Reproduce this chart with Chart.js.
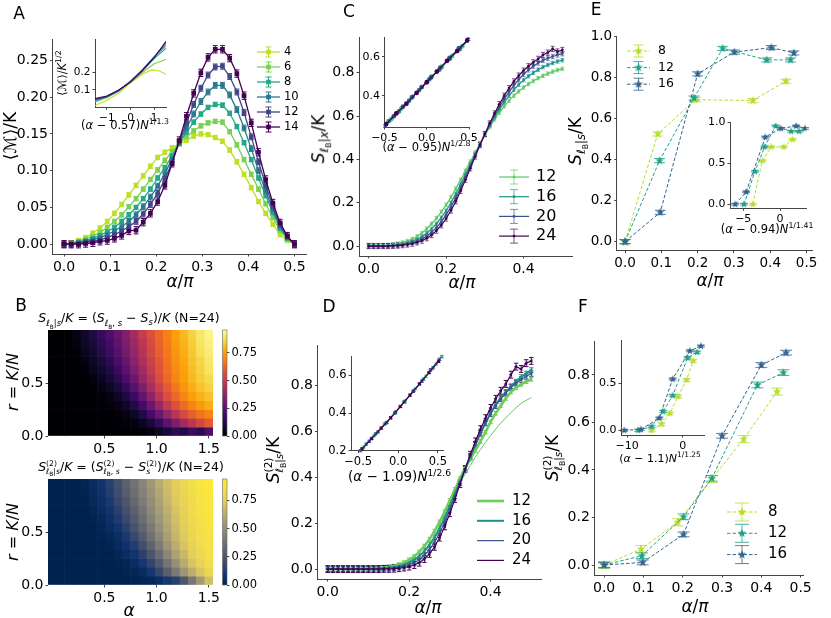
<!DOCTYPE html>
<html>
<head>
<meta charset="utf-8">
<script src="https://cdn.jsdelivr.net/npm/chart.js@4.4.1/dist/chart.umd.min.js"></script>
<style>
  body { margin: 0; background: #fff; }
  #fig { position: relative; width: 831px; height: 618px; overflow: hidden; background: #fff;
         font-family: "DejaVu Sans", sans-serif; color: #000; }
  #fig canvas { position: absolute; left: 0; top: 0; }
  .lbl { position: absolute; white-space: nowrap; line-height: 1; z-index: 5; }
  .lbl sub, .lbl sup { font-size: 68%; line-height: 0; }
  .ss { display: inline-block; vertical-align: -0.4em; font-size: 62%; line-height: 1.05; text-align: left; }
  .ss sub { font-size: 75%; }
</style>
</head>
<body>
<div id="fig"></div>
<script>
// ---------- panel A : <M>/K vs alpha/pi ----------
const aX = [0, 0.0156, 0.0313, 0.0469, 0.0625, 0.0781, 0.0938, 0.1094, 0.125, 0.1406, 0.1563,
  0.1719, 0.1875, 0.2031, 0.2188, 0.2344, 0.25, 0.2656, 0.2813, 0.2969, 0.3125, 0.3281,
  0.3438, 0.3594, 0.375, 0.3906, 0.4063, 0.4219, 0.4375, 0.4531, 0.4688, 0.4844, 0.5];
const aLabels = ['4', '6', '8', '10', '12', '14'];
const aN4 = [0, 0.002, 0.005, 0.009, 0.015, 0.022, 0.031, 0.042, 0.054, 0.067, 0.080, 0.093, 0.106,
  0.118, 0.125, 0.131, 0.136, 0.141, 0.147, 0.150, 0.149, 0.145, 0.140, 0.128, 0.112, 0.095,
  0.077, 0.058, 0.042, 0.027, 0.013, 0.005, 0];
const aN6 = [0, 0.001, 0.004, 0.007, 0.011, 0.016, 0.023, 0.031, 0.040, 0.051, 0.062, 0.075, 0.088,
  0.101, 0.114, 0.126, 0.137, 0.146, 0.154, 0.161, 0.165, 0.167, 0.166, 0.153, 0.135, 0.115,
  0.095, 0.075, 0.055, 0.036, 0.018, 0.007, 0];
const aN8 = [0, 0.001, 0.003, 0.005, 0.008, 0.012, 0.017, 0.023, 0.031, 0.040, 0.050, 0.062, 0.075,
  0.090, 0.104, 0.120, 0.137, 0.152, 0.166, 0.177, 0.186, 0.190, 0.189, 0.178, 0.160, 0.138,
  0.115, 0.090, 0.066, 0.043, 0.021, 0.008, 0];
const aN10 = [0, 0.001, 0.002, 0.004, 0.006, 0.009, 0.013, 0.018, 0.024, 0.031, 0.040, 0.051, 0.064,
  0.079, 0.096, 0.116, 0.138, 0.158, 0.177, 0.194, 0.207, 0.216, 0.216, 0.203, 0.183, 0.158,
  0.130, 0.100, 0.072, 0.047, 0.024, 0.009, 0];
const aN12 = [0, 0, 0.001, 0.003, 0.004, 0.006, 0.009, 0.013, 0.018, 0.024, 0.031, 0.041, 0.054,
  0.069, 0.088, 0.111, 0.139, 0.165, 0.190, 0.212, 0.230, 0.241, 0.242, 0.228, 0.207, 0.179,
  0.146, 0.112, 0.080, 0.051, 0.026, 0.010, 0];
const aN14 = [0, 0, 0, 0.001, 0.002, 0.004, 0.005, 0.008, 0.012, 0.018, 0.019, 0.030, 0.042,
  0.058, 0.080, 0.110, 0.141, 0.174, 0.205, 0.233, 0.254, 0.265, 0.265, 0.253, 0.232, 0.202,
  0.165, 0.125, 0.088, 0.056, 0.029, 0.011, 0];
const aErr = [0.003, 0.003, 0.003, 0.004, 0.004, 0.005];
// inset of A (collapse), x then y per size
const aInX = [[-1.5, -1, -0.5, 0, 0.5, 0.9, 1.2, 1.5], [-1.5, -1, -0.5, 0, 0.5, 1, 1.5],
  [-1.5, -1, -0.5, 0, 0.5, 1, 1.5], [-1.5, -1, -0.5, 0, 0.5, 1, 1.5],
  [-1.5, -1, -0.5, 0, 0.5, 1, 1.5], [-1.5, -1, -0.5, 0, 0.5, 1, 1.5]];
const aInY = [[0.01, 0.04, 0.08, 0.14, 0.19, 0.215, 0.21, 0.19], [0.03, 0.055, 0.09, 0.145, 0.2, 0.25, 0.275],
  [0.035, 0.06, 0.095, 0.15, 0.21, 0.28, 0.34], [0.04, 0.06, 0.095, 0.15, 0.215, 0.29, 0.355],
  [0.045, 0.062, 0.097, 0.148, 0.215, 0.29, 0.37], [0.05, 0.065, 0.1, 0.145, 0.21, 0.285, 0.38]];

// ---------- panel C : S_{lB|x}/K ----------
const cX = [0, 0.0125, 0.025, 0.0375, 0.05, 0.0625, 0.075, 0.0875, 0.1, 0.1125, 0.125, 0.1375, 0.15,
  0.1625, 0.175, 0.1875, 0.2, 0.2125, 0.225, 0.2375, 0.25, 0.2625, 0.275, 0.2875, 0.3, 0.3125,
  0.325, 0.3375, 0.35, 0.3625, 0.375, 0.3875, 0.4, 0.4125, 0.425, 0.4375, 0.45, 0.4625, 0.475, 0.4875, 0.5];
const cLabels = ['12', '16', '20', '24'];
const cN12 = [0, 0, 0.001, 0.002, 0.004, 0.007, 0.011, 0.016, 0.023, 0.032, 0.044, 0.060, 0.080, 0.103,
  0.129, 0.158, 0.190, 0.226, 0.265, 0.306, 0.348, 0.390, 0.432, 0.473, 0.512, 0.549, 0.584, 0.616,
  0.645, 0.671, 0.694, 0.714, 0.732, 0.748, 0.762, 0.775, 0.786, 0.796, 0.805, 0.812, 0.818];
const cN16 = [0, 0, 0, 0.001, 0.002, 0.004, 0.007, 0.010, 0.015, 0.022, 0.031, 0.043, 0.059, 0.079,
  0.103, 0.131, 0.163, 0.200, 0.241, 0.285, 0.331, 0.378, 0.425, 0.470, 0.514, 0.556, 0.595, 0.631,
  0.664, 0.694, 0.721, 0.745, 0.766, 0.784, 0.800, 0.814, 0.826, 0.836, 0.845, 0.852, 0.858];
const cN20 = [0, 0, 0, 0, 0.001, 0.002, 0.004, 0.007, 0.011, 0.016, 0.023, 0.033, 0.046, 0.063, 0.085,
  0.112, 0.144, 0.181, 0.223, 0.269, 0.318, 0.369, 0.420, 0.470, 0.517, 0.562, 0.604, 0.643, 0.679,
  0.712, 0.742, 0.769, 0.793, 0.813, 0.830, 0.845, 0.857, 0.867, 0.875, 0.882, 0.888];
const cN24 = [0, 0, 0, 0, 0, 0.001, 0.002, 0.004, 0.007, 0.011, 0.017, 0.025, 0.036, 0.051, 0.071,
  0.096, 0.127, 0.164, 0.207, 0.255, 0.306, 0.359, 0.413, 0.466, 0.517, 0.566, 0.612, 0.655, 0.694,
  0.729, 0.760, 0.787, 0.810, 0.830, 0.848, 0.864, 0.882, 0.893, 0.910, 0.898, 0.905];
const cErr = [0.008, 0.008, 0.01, 0.012];
const cInX = [[-0.42, -0.3, -0.18, -0.06, 0.06, 0.18, 0.3, 0.42],
  [-0.45, -0.33, -0.21, -0.09, 0.03, 0.15, 0.27, 0.39, 0.5],
  [-0.5, -0.39, -0.28, -0.17, -0.06, 0.05, 0.16, 0.27, 0.38, 0.49],
  [-0.48, -0.36, -0.24, -0.12, 0, 0.12, 0.24, 0.36, 0.48]];
const cInY = [[0.28, 0.335, 0.39, 0.445, 0.5, 0.55, 0.605, 0.655],
  [0.27, 0.32, 0.375, 0.43, 0.485, 0.535, 0.59, 0.64, 0.69],
  [0.245, 0.295, 0.345, 0.395, 0.445, 0.495, 0.545, 0.595, 0.645, 0.69],
  [0.255, 0.31, 0.36, 0.415, 0.47, 0.525, 0.58, 0.63, 0.685]];

// ---------- panel D : S^(2)_{lB|s}/K ----------
const dN12 = [0, 0, 0, 0, 0, 0, 0.001, 0.001, 0.002, 0.003, 0.004, 0.006, 0.009, 0.013, 0.019, 0.028,
  0.040, 0.055, 0.075, 0.100, 0.130, 0.165, 0.205, 0.250, 0.298, 0.346, 0.394, 0.440, 0.478, 0.515,
  0.555, 0.595, 0.640, 0.677, 0.710, 0.742, 0.770, 0.788, 0.803, 0.815, 0.825];
const dN16 = [0, 0, 0, 0, 0, 0, 0, 0, 0.001, 0.002, 0.003, 0.004, 0.006, 0.009, 0.013, 0.019, 0.028,
  0.040, 0.056, 0.078, 0.105, 0.138, 0.178, 0.224, 0.275, 0.328, 0.382, 0.435, 0.486, 0.540, 0.590,
  0.635, 0.680, 0.715, 0.745, 0.770, 0.795, 0.815, 0.835, 0.850, 0.865];
const dN20 = [0, 0, 0, 0, 0, 0, 0, 0, 0, 0.001, 0.002, 0.003, 0.004, 0.006, 0.009, 0.013, 0.019,
  0.028, 0.041, 0.060, 0.085, 0.117, 0.157, 0.205, 0.260, 0.318, 0.377, 0.435, 0.490, 0.542, 0.590,
  0.635, 0.675, 0.710, 0.740, 0.765, 0.790, 0.808, 0.824, 0.838, 0.850];
const dN24 = [0, 0, 0, 0, 0, 0, 0, 0, 0, 0, 0, 0.001, 0.001, 0.002, 0.004, 0.007, 0.011, 0.018,
  0.028, 0.044, 0.066, 0.097, 0.137, 0.186, 0.243, 0.305, 0.370, 0.435, 0.497, 0.555, 0.608, 0.656,
  0.700, 0.740, 0.775, 0.805, 0.845, 0.880, 0.870, 0.895, 0.905];
const dErr = [0.008, 0.01, 0.012, 0.015];
const dThinX = [0, 0.025, 0.05, 0.075, 0.1, 0.125, 0.15, 0.175, 0.2, 0.225, 0.25, 0.275, 0.3, 0.325,
  0.35, 0.375, 0.4, 0.425, 0.45, 0.475, 0.5];
const dThin12 = [0, 0, 0, 0, 0.001, 0.003, 0.009, 0.019, 0.04, 0.075, 0.13, 0.205, 0.29, 0.375, 0.45,
  0.52, 0.58, 0.635, 0.68, 0.72, 0.745];
const dInX = [[-0.43, -0.3, -0.17, -0.04, 0.09, 0.22, 0.35, 0.48],
  [-0.4, -0.28, -0.16, -0.04, 0.08, 0.2, 0.32, 0.44, 0.55],
  [-0.47, -0.36, -0.25, -0.14, -0.03, 0.08, 0.19, 0.3, 0.41, 0.52],
  [-0.45, -0.33, -0.21, -0.09, 0.03, 0.15, 0.27, 0.39, 0.51]];
const dInY = [[0.22, 0.28, 0.34, 0.4, 0.465, 0.53, 0.595, 0.66],
  [0.235, 0.29, 0.345, 0.4, 0.46, 0.52, 0.58, 0.64, 0.7],
  [0.2, 0.25, 0.3, 0.35, 0.405, 0.46, 0.515, 0.57, 0.63, 0.685],
  [0.21, 0.265, 0.32, 0.375, 0.435, 0.495, 0.555, 0.615, 0.675]];

// ---------- panel E ----------
const eLabels = ['8', '12', '16'];
const eX = [[0, 0.09, 0.194, 0.352, 0.443], [0, 0.095, 0.19, 0.269, 0.39, 0.456], [0, 0.097, 0.2, 0.301, 0.403, 0.465]];
const eY = [[0, 0.525, 0.692, 0.688, 0.782], [0, 0.395, 0.70, 0.942, 0.886, 0.886], [0, 0.143, 0.818, 0.924, 0.946, 0.92]];
const eInX = [[-3.7, -2.4, -1.2, 0.5, 1.7], [-4.9, -3.4, -2.1, -0.6, 1.5, 2.6], [-6.1, -4.6, -2.0, 0.1, 2.2, 3.4]];
const eInY = [[0, 0.53, 0.70, 0.70, 0.79], [0, 0.40, 0.70, 0.955, 0.89, 0.89], [0, 0.15, 0.82, 0.925, 0.955, 0.925]];
const eErr = [0.01, 0.01, 0.01];

// ---------- panel F ----------
const fX = [[0, 0.094, 0.187, 0.274, 0.355, 0.44], [0, 0.096, 0.202, 0.274, 0.39, 0.456], [0, 0.098, 0.202, 0.3, 0.40, 0.463]];
const fY = [[0, 0.067, 0.18, 0.362, 0.53, 0.73], [0, 0.039, 0.203, 0.365, 0.758, 0.81], [0, 0.011, 0.129, 0.544, 0.842, 0.894]];
const fInX = [[-5.6, -3.8, -2.3, -0.8, 0.7, 1.9], [-8.0, -5.6, -3.5, -1.8, 0.9, 2.6], [-10.5, -7.5, -4.2, -1.8, 1.3, 3.3]];
const fInY = [[0, 0.065, 0.18, 0.36, 0.535, 0.74], [0, 0.04, 0.2, 0.37, 0.77, 0.83], [0, 0.01, 0.13, 0.545, 0.845, 0.895]];
const fErr = [0.015, 0.012, 0.01];

// ---------- panel B : heat maps (rows listed top r~1 to bottom r~0) ----------
const hAlpha = [0, 0.0789, 0.1579, 0.2368, 0.3158, 0.3947, 0.4737, 0.5526, 0.6316, 0.7105, 0.7895,
  0.8684, 0.9474, 1.0263, 1.1053, 1.1842, 1.2632, 1.3421, 1.4211, 1.5];
const hREdges = [1, 0.9167, 0.8333, 0.75, 0.6667, 0.5833, 0.5, 0.4167, 0.3333, 0.25, 0.1667, 0.0833, 0];
const heatTop = [
  [0, 0, 0, 0.03, 0.07, 0.12, 0.17, 0.22, 0.28, 0.34, 0.42, 0.50, 0.57, 0.63, 0.69, 0.75, 0.80, 0.85, 0.90, 0.93],
  [0, 0, 0, 0.02, 0.06, 0.10, 0.15, 0.20, 0.26, 0.33, 0.40, 0.48, 0.55, 0.62, 0.68, 0.74, 0.79, 0.84, 0.89, 0.92],
  [0, 0, 0, 0.01, 0.04, 0.08, 0.13, 0.18, 0.24, 0.31, 0.38, 0.46, 0.54, 0.61, 0.67, 0.73, 0.78, 0.83, 0.88, 0.91],
  [0, 0, 0, 0, 0.02, 0.06, 0.10, 0.15, 0.21, 0.28, 0.36, 0.44, 0.52, 0.59, 0.66, 0.72, 0.77, 0.82, 0.86, 0.90],
  [0, 0, 0, 0, 0.01, 0.04, 0.08, 0.12, 0.18, 0.25, 0.33, 0.41, 0.50, 0.58, 0.65, 0.71, 0.76, 0.81, 0.85, 0.89],
  [0, 0, 0, 0, 0, 0.02, 0.05, 0.09, 0.14, 0.21, 0.29, 0.38, 0.47, 0.56, 0.63, 0.70, 0.75, 0.80, 0.84, 0.87],
  [0, 0, 0, 0, 0, 0.01, 0.03, 0.06, 0.10, 0.16, 0.24, 0.33, 0.43, 0.52, 0.60, 0.67, 0.73, 0.78, 0.82, 0.85],
  [0, 0, 0, 0, 0, 0, 0.01, 0.03, 0.06, 0.11, 0.18, 0.27, 0.37, 0.47, 0.56, 0.63, 0.70, 0.75, 0.79, 0.82],
  [0, 0, 0, 0, 0, 0, 0, 0.01, 0.03, 0.06, 0.12, 0.20, 0.29, 0.39, 0.49, 0.57, 0.64, 0.70, 0.74, 0.78],
  [0, 0, 0, 0, 0, 0, 0, 0, 0.01, 0.03, 0.06, 0.12, 0.20, 0.29, 0.38, 0.47, 0.55, 0.61, 0.66, 0.70],
  [0, 0, 0, 0, 0, 0, 0, 0, 0, 0.01, 0.02, 0.05, 0.10, 0.17, 0.25, 0.33, 0.41, 0.48, 0.54, 0.60],
  [0, 0, 0, 0, 0, 0, 0, 0, 0, 0, 0, 0.01, 0.03, 0.06, 0.10, 0.15, 0.12, 0.18, 0.14, 0.22]];
const heatBot = [
  [0, 0, 0, 0, 0.02, 0.05, 0.09, 0.15, 0.22, 0.30, 0.38, 0.46, 0.54, 0.62, 0.69, 0.75, 0.80, 0.85, 0.90, 0.93],
  [0, 0, 0, 0, 0.01, 0.04, 0.08, 0.13, 0.20, 0.28, 0.36, 0.44, 0.52, 0.60, 0.68, 0.74, 0.79, 0.84, 0.89, 0.92],
  [0, 0, 0, 0, 0, 0.03, 0.06, 0.11, 0.18, 0.25, 0.33, 0.42, 0.50, 0.58, 0.66, 0.73, 0.78, 0.83, 0.88, 0.91],
  [0, 0, 0, 0, 0, 0.02, 0.05, 0.09, 0.15, 0.22, 0.30, 0.39, 0.48, 0.56, 0.64, 0.71, 0.77, 0.82, 0.87, 0.91],
  [0, 0, 0, 0, 0, 0.01, 0.03, 0.07, 0.12, 0.19, 0.27, 0.36, 0.45, 0.54, 0.62, 0.70, 0.76, 0.81, 0.86, 0.90],
  [0, 0, 0, 0, 0, 0, 0.02, 0.05, 0.09, 0.15, 0.23, 0.32, 0.41, 0.51, 0.60, 0.68, 0.75, 0.80, 0.85, 0.89],
  [0, 0, 0, 0, 0, 0, 0.01, 0.03, 0.06, 0.11, 0.18, 0.27, 0.37, 0.47, 0.57, 0.66, 0.73, 0.79, 0.84, 0.88],
  [0, 0, 0, 0, 0, 0, 0, 0.01, 0.04, 0.08, 0.13, 0.21, 0.31, 0.42, 0.53, 0.63, 0.71, 0.77, 0.83, 0.87],
  [0, 0, 0, 0, 0, 0, 0, 0, 0.02, 0.05, 0.09, 0.15, 0.24, 0.35, 0.47, 0.58, 0.67, 0.75, 0.81, 0.86],
  [0, 0, 0, 0, 0, 0, 0, 0, 0.01, 0.02, 0.05, 0.10, 0.17, 0.27, 0.39, 0.51, 0.62, 0.71, 0.78, 0.84],
  [0, 0, 0, 0, 0, 0, 0, 0, 0, 0.01, 0.02, 0.05, 0.10, 0.18, 0.29, 0.41, 0.53, 0.63, 0.72, 0.80],
  [0, 0, 0, 0, 0, 0, 0, 0, 0, 0, 0.01, 0.02, 0.03, 0.06, 0.11, 0.15, 0.25, 0.40, 0.55, 0.70]];
const heatTopMax = 0.957;
const heatBotMax = 0.94;

// ---------- styling ----------
const INFERNO = ['#000004', '#160b39', '#420a68', '#6a176e', '#932667', '#bc3754', '#dd513a', '#f37819', '#fca50a', '#f6d746', '#fcffa4'];
const CIVIDIS = ['#00224e', '#123570', '#3b496c', '#575d6d', '#707173', '#8a8779', '#a69d75', '#c4b56c', '#e4cf5b', '#f3de4c', '#fee838'];
const VIR6 = ['#bddf26', '#7ad151', '#22a884', '#2a788e', '#414487', '#440154'];
const VIR4 = ['#5ec962', '#21918c', '#3b528b', '#440154'];
const VIRD = ['#6ece58', '#21918c', '#3b528b', '#440154'];
const VIR3 = ['#b5de2b', '#1fa187', '#33638d'];

Chart.defaults.font.family = '"DejaVu Sans", sans-serif';
Chart.defaults.color = '#000';
const fig = document.getElementById('fig');
const FW = 831, FH = 618;

function hex2rgb(h) { return [1, 3, 5].map(i => parseInt(h.substr(i, 2), 16)); }
function cmap(stops, t) {
  t = Math.max(0, Math.min(1, t));
  const p = t * (stops.length - 1), i = Math.min(Math.floor(p), stops.length - 2), f = p - i;
  const a = hex2rgb(stops[i]), b = hex2rgb(stops[i + 1]);
  return 'rgb(' + a.map((v, k) => Math.round(v + (b[k] - v) * f)).join(',') + ')';
}
function pts(xs, ys) { return xs.map((x, i) => ({x: x, y: ys[i]})); }
function starImg(color, r) {
  const c = document.createElement('canvas');
  const s = Math.ceil(2 * r + 2);
  c.width = c.height = s;
  const g = c.getContext('2d');
  g.fillStyle = color;
  g.beginPath();
  for (let i = 0; i < 10; i++) {
    const a = -Math.PI / 2 + i * Math.PI / 5, rr = i % 2 ? r * 0.42 : r;
    g.lineTo(s / 2 + rr * Math.cos(a), s / 2 + rr * Math.sin(a));
  }
  g.closePath();
  g.fill();
  return c;
}

// axis helper: ticks fixed, only left/bottom spines like the original
function ax(pos, min, max, ticks, dec, size, extra) {
  return Object.assign({
    type: 'linear', position: pos, min: min, max: max, offset: false,
    afterBuildTicks: s => { s.ticks = ticks.map(v => ({value: v})); },
    afterFit: s => { if (pos === 'bottom') s.height = 30; else s.width = 50; },
    grid: {drawOnChartArea: false, drawTicks: true, tickLength: 2.5, tickWidth: 1, tickColor: '#444', offset: false},
    border: {display: true, color: '#444', width: 1},
    ticks: {font: {size: size}, color: '#000', padding: 2, maxRotation: 0, autoSkip: false,
      callback: v => (v < 0 ? '\u2212' : '') + Math.abs(v).toFixed(dec)}
  }, extra || {});
}

// error bars drawn through the y scale
const errBars = {
  id: 'errBars',
  beforeDatasetsDraw(chart) {
    const ctx = chart.ctx, ys = chart.scales.y;
    chart.data.datasets.forEach((ds, i) => {
      if (ds.err === undefined) return;
      const meta = chart.getDatasetMeta(i);
      ctx.save();
      ctx.strokeStyle = ds.errColor || ds.borderColor;
      ctx.lineWidth = ds.errWidth || 1;
      meta.data.forEach((pt, j) => {
        const v = ds.data[j].y, e = ds.err;
        const y0 = ys.getPixelForValue(v - e), y1 = ys.getPixelForValue(v + e), c = ds.cap || 0;
        ctx.beginPath();
        ctx.moveTo(pt.x, y0); ctx.lineTo(pt.x, y1);
        if (c) {
          ctx.moveTo(pt.x - c, y0); ctx.lineTo(pt.x + c, y0);
          ctx.moveTo(pt.x - c, y1); ctx.lineTo(pt.x + c, y1);
        }
        ctx.stroke();
      });
      ctx.restore();
    });
  }
};

// legend drawn at fixed spots, like matplotlib's inside-axes legends
const legendBox = {
  id: 'legendBox',
  afterDraw(chart, args, o) {
    if (o.x0 === undefined) return;
    const ctx = chart.ctx;
    chart.data.datasets.filter(d => d.label).forEach((ds, i) => {
      const y = o.y + i * o.dy, xm = (o.x0 + o.x1) / 2;
      ctx.save();
      ctx.strokeStyle = ds.borderColor;
      ctx.lineWidth = ds.borderWidth;
      ctx.setLineDash(ds.borderDash || []);
      ctx.beginPath(); ctx.moveTo(o.x0, y); ctx.lineTo(o.x1, y); ctx.stroke();
      ctx.setLineDash([]);
      if (o.eh) {
        ctx.strokeStyle = ds.errColor || ds.borderColor;
        ctx.lineWidth = 1;
        ctx.beginPath();
        ctx.moveTo(xm, y - o.eh); ctx.lineTo(xm, y + o.eh);
        ctx.moveTo(xm - o.cap, y - o.eh); ctx.lineTo(xm + o.cap, y - o.eh);
        ctx.moveTo(xm - o.cap, y + o.eh); ctx.lineTo(xm + o.cap, y + o.eh);
        ctx.stroke();
      }
      if (ds.pointRadius && !o.noMarker) {
        ctx.fillStyle = ds.pointBackgroundColor || ds.borderColor;
        ctx.strokeStyle = ds.pointBackgroundColor || ds.borderColor;
        Chart.helpers.drawPoint(ctx, {pointStyle: ds.pointStyle, radius: ds.pointRadius,
          rotation: ds.pointRotation || 0, borderWidth: 0}, xm, y);
      }
      ctx.fillStyle = '#000';
      ctx.font = o.size + 'px "DejaVu Sans"';
      ctx.textBaseline = 'middle';
      ctx.fillText(ds.label, o.tx, y);
      ctx.restore();
    });
  }
};

// colour bar gradient
const colorBar = {
  id: 'colorBar',
  beforeDatasetsDraw(chart, args, o) {
    if (!o.stops) return;
    const a = chart.chartArea, ctx = chart.ctx;
    const g = ctx.createLinearGradient(0, a.bottom, 0, a.top);
    o.stops.forEach((c, i) => g.addColorStop(i / (o.stops.length - 1), c));
    ctx.save();
    ctx.fillStyle = g;
    ctx.fillRect(a.left, a.top, a.right - a.left, a.bottom - a.top);
    ctx.strokeStyle = '#666'; ctx.lineWidth = 0.6;
    ctx.strokeRect(a.left, a.top, a.right - a.left, a.bottom - a.top);
    ctx.restore();
  }
};

function makeChart(box, type, datasets, xs, ys, plug, yRight) {
  const c = document.createElement('canvas');
  c.width = FW; c.height = FH;
  fig.appendChild(c);
  const pad = {left: box[0], top: box[1], right: FW - box[2], bottom: FH - box[3]};
  if (xs.display !== false) pad.bottom -= 30;
  if (yRight) pad.right -= 50; else pad.left -= 50;
  return new Chart(c, {
    type: type,
    data: {datasets: datasets},
    options: {
      responsive: false, animation: false, events: [],
      devicePixelRatio: 1,
      layout: {padding: pad},
      plugins: Object.assign({legend: {display: false}, tooltip: {enabled: false}}, plug || {}),
      scales: {x: xs, y: ys}
    },
    plugins: [errBars, legendBox, colorBar]
  });
}

function label(html, x, y, size, rot) {
  const d = document.createElement('div');
  d.className = 'lbl';
  d.innerHTML = html;
  d.style.left = x + 'px';
  d.style.top = y + 'px';
  d.style.fontSize = size + 'px';
  d.style.transform = 'translate(-50%,-50%)' + (rot ? ' rotate(-90deg)' : '');
  fig.appendChild(d);
}

// ----- A -----
makeChart([52.5, 39, 306, 254], 'line',
  [aN4, aN6, aN8, aN10, aN12, aN14].map((ys, i) => ({
    label: aLabels[i], data: pts(aX, ys), borderColor: VIR6[i], borderWidth: 1.3,
    pointStyle: 'rect', pointRadius: 3.3, pointBackgroundColor: VIR6[i], pointBorderWidth: 0,
    err: aErr[i], cap: 2.5, order: -i
  })),
  ax('bottom', -0.025, 0.525, [0, 0.1, 0.2, 0.3, 0.4, 0.5], 1, 14),
  ax('left', -0.0133, 0.279, [0, 0.05, 0.1, 0.15, 0.2, 0.25], 2, 14),
  {legendBox: {x0: 257, x1: 280, tx: 284, y: 52, dy: 15, size: 11.5, eh: 5, cap: 3}});
makeChart([95, 39.5, 166, 107.3], 'line',
  aInY.map((ys, i) => ({data: pts(aInX[i], ys), borderColor: VIR6[i], borderWidth: 1.1, pointRadius: 0, order: -i})),
  ax('bottom', -1.5, 1.5, [-1, 0, 1], 0, 10.5),
  ax('left', 0, 0.39, [0.1, 0.2], 1, 10.5));

// ----- C -----
makeChart([359, 37, 572, 256], 'line',
  [cN12, cN16, cN20, cN24].map((ys, i) => ({
    label: cLabels[i], data: pts(cX, ys), borderColor: VIR4[i], borderWidth: 1.2,
    pointStyle: 'circle', pointRadius: 1.4, pointBackgroundColor: VIR4[i], pointBorderWidth: 0,
    err: cErr[i], cap: 2, errColor: VIR4[i] + 'aa', order: -i
  })),
  ax('bottom', -0.025, 0.525, [0, 0.2, 0.4], 1, 14),
  ax('left', -0.046, 0.965, [0, 0.2, 0.4, 0.6, 0.8], 1, 14),
  {legendBox: {x0: 499, x1: 529, tx: 536, y: 177, dy: 19.7, size: 16, eh: 7, cap: 4}});
makeChart([384.5, 37.5, 469, 127], 'line',
  cInY.map((ys, i) => ({data: pts(cInX[i], ys), borderColor: VIR4[i], borderWidth: 1.2,
    pointStyle: 'circle', pointRadius: 2.4, pointBackgroundColor: VIR4[i], pointBorderWidth: 0,
    err: 0.006, cap: 1.5, order: -i})),
  ax('bottom', -0.5, 0.5, [-0.5, 0, 0.5], 1, 11),
  ax('left', 0.24, 0.70, [0.4, 0.6], 1, 11));

// ----- D -----
const dSets = [dN12, dN16, dN20, dN24].map((ys, i) => ({
  label: cLabels[i], data: pts(cX, ys), borderColor: VIRD[i],
  borderWidth: [2.6, 2, 1.2, 1.2][i], pointStyle: 'triangle', pointRotation: -90, pointRadius: 2.3,
  pointBackgroundColor: VIRD[i], pointBorderWidth: 0,
  err: dErr[i], cap: 2.2, errWidth: 1, order: -i
}));
dSets.push({data: pts(dThinX, dThin12), borderColor: '#5ec962', borderWidth: 1, pointRadius: 0,
  cubicInterpolationMode: 'monotone', order: 1});
makeChart([317.5, 345, 541.5, 579], 'line', dSets,
  ax('bottom', -0.025, 0.525, [0, 0.2, 0.4], 1, 14),
  ax('left', -0.043, 0.974, [0, 0.2, 0.4, 0.6, 0.8], 1, 14),
  {legendBox: {x0: 477, x1: 504, tx: 512, y: 501, dy: 19.8, size: 15, noMarker: true}});
makeChart([351, 356.5, 443.5, 450.7], 'line',
  dInY.map((ys, i) => ({data: pts(dInX[i], ys), borderColor: VIRD[i],
    borderWidth: 1.1, pointStyle: 'triangle', pointRotation: -90, pointRadius: 2.3,
    pointBackgroundColor: VIRD[i], pointBorderWidth: 0,
    err: 0.006, cap: 1.8, order: -i})),
  ax('bottom', -0.59, 0.57, [-0.5, 0, 0.5], 1, 11.5),
  ax('left', 0.2, 0.70, [0.2, 0.4, 0.6], 1, 11.5));

// ----- E -----
function starSets(xs, ys, err, cap, r, withLabel) {
  return ys.map((y, i) => ({
    label: withLabel ? eLabels[i] : undefined, data: pts(xs[i], y), borderColor: VIR3[i], borderWidth: 1,
    borderDash: [3.5, 2], pointStyle: starImg(VIR3[i], r), pointRadius: r,
    err: err[i], cap: cap, errColor: VIR3[i] + 'cc', order: -i
  }));
}
makeChart([616.7, 36.5, 812, 250.7], 'line', starSets(eX, eY, eErr, 5.5, 4.6, true),
  ax('bottom', -0.023, 0.515, [0, 0.1, 0.2, 0.3, 0.4, 0.5], 1, 13.5),
  ax('left', -0.044, 1.0, [0, 0.2, 0.4, 0.6, 0.8, 1.0], 1, 13.5),
  {legendBox: {x0: 627, x1: 650, tx: 658, y: 51, dy: 16.6, size: 12.5, eh: 6, cap: 5}});
makeChart([730, 122.3, 806.5, 208.3], 'line', starSets(eInX, eInY, eErr, 4, 4, false),
  ax('bottom', -6.8, 3.6, [-5, 0], 0, 11),
  ax('left', -0.05, 1.0, [0, 0.5, 1.0], 1, 11));

// ----- F -----
makeChart([594.3, 341, 803, 575], 'line', starSets(fX, fY, fErr, 6, 4.6, true),
  ax('bottom', -0.025, 0.506, [0, 0.1, 0.2, 0.3, 0.4, 0.5], 1, 14),
  ax('left', -0.042, 0.943, [0, 0.2, 0.4, 0.6, 0.8], 1, 14),
  {legendBox: {x0: 727, x1: 757, tx: 768, y: 512, dy: 21.3, size: 15, eh: 9, cap: 7}});
makeChart([621, 340, 704, 435], 'line', starSets(fInX, fInY, fErr, 4, 4, false),
  ax('bottom', -11.1, 3.85, [-10, 0], 0, 11),
  ax('left', -0.05, 0.96, [0, 0.5], 1, 11));

// ----- B heat maps -----
function heatSets(mat, stops, vmax) {
  return mat.map((row, r) => ({
    type: 'bar', grouped: false, barPercentage: 1, categoryPercentage: 1, borderWidth: 0,
    data: hAlpha.map(a => ({x: a, y: [hREdges[r + 1], hREdges[r]]})),
    backgroundColor: row.map(v => cmap(stops, v / vmax))
  }));
}
const noBorder = {border: {display: false}};
makeChart([48, 330, 213, 436], 'bar', heatSets(heatTop, INFERNO, heatTopMax),
  ax('bottom', -0.0395, 1.5395, [0.5, 1.0, 1.5], 1, 14, noBorder),
  ax('left', 0, 1, [0, 0.5], 1, 14, noBorder));
makeChart([48, 479, 213, 585], 'bar', heatSets(heatBot, CIVIDIS, heatBotMax),
  ax('bottom', -0.0395, 1.5395, [0.5, 1.0, 1.5], 1, 14, noBorder),
  ax('left', 0, 1, [0, 0.5], 1, 14, noBorder));
makeChart([222.5, 330, 227, 436], 'line', [],
  {type: 'linear', display: false, min: 0, max: 1},
  ax('right', 0, heatTopMax, [0, 0.25, 0.5, 0.75], 2, 11.5, noBorder),
  {colorBar: {stops: INFERNO}}, true);
makeChart([222.5, 479, 227, 585], 'line', [],
  {type: 'linear', display: false, min: 0, max: 1},
  ax('right', 0, heatBotMax, [0, 0.25, 0.5, 0.75], 2, 11.5, noBorder),
  {colorBar: {stops: CIVIDIS}}, true);

// ----- text -----
const AP = '<i>α</i>/<i>π</i>';
const S2 = '<i>S</i><span class="ss">(2)<br><i>ℓ</i><sub>B</sub>|<i>s</i></span>';
label('A', 19, 12.5, 17); label('C', 349, 11, 17); label('E', 596, 9, 17);
label('B', 21, 305, 17); label('D', 329, 306, 17); label('F', 583, 306, 17);
label(AP, 180, 281, 17);
label(AP, 462, 282, 17);
label(AP, 710, 280, 17);
label(AP, 428, 607, 17);
label(AP, 695, 606, 17);
label('⟨<i>ℳ</i>⟩/K', 10, 136, 17, true);
label('<i>S</i><sub><i>ℓ</i><sub>B</sub>|<i>x</i></sub>/K', 320, 139, 17, true);
label('<i>S</i><sub><i>ℓ</i><sub>B</sub>|<i>s</i></sub>/K', 577, 141, 17, true);
label(S2 + '/K', 274, 460, 17, true);
label(S2 + '/K', 553, 458, 17, true);
label('⟨<i>ℳ</i>⟩/<i>K</i><sup>1/2</sup>', 63, 73, 11.5, true);
label('(<i>α</i> − 0.57)<i>N</i><sup>1/1.3</sup>', 125, 126, 11.5);
label('(<i>α</i> − 0.95)<i>N</i><sup>1/2.8</sup>', 426.5, 148, 11.5);
label('(<i>α</i> − 1.09)<i>N</i><sup>1/2.6</sup>', 399.5, 477, 13.5);
label('(<i>α</i> − 0.94)<i>N</i><sup>1/1.41</sup>', 767, 230, 11.5);
label('(<i>α</i> − 1.1)<i>N</i><sup>1/1.25</sup>', 660, 458, 11);
label('<i>S</i><sub><i>ℓ</i><sub>B</sub>|<i>s</i></sub>/<i>K</i> = (<i>S</i><sub><i>ℓ</i><sub>B</sub>, <i>s</i></sub> − <i>S</i><sub><i>s</i></sub>)/<i>K</i> (N=24)', 129, 319, 12.5);
label(S2 + '/<i>K</i> = (<i>S</i><span class="ss">(2)<br><i>ℓ</i><sub>B</sub>, <i>s</i></span> − <i>S</i><span class="ss">(2)<br><i>s</i></span>)/<i>K</i> (N=24)', 131, 468, 12.5);
label('<i>r</i> = <i>K</i>/<i>N</i>', 13, 382, 16, true);
label('<i>r</i> = <i>K</i>/<i>N</i>', 13, 532, 16, true);
label('<i>α</i>', 129, 610, 17);
</script>
</body>
</html>
